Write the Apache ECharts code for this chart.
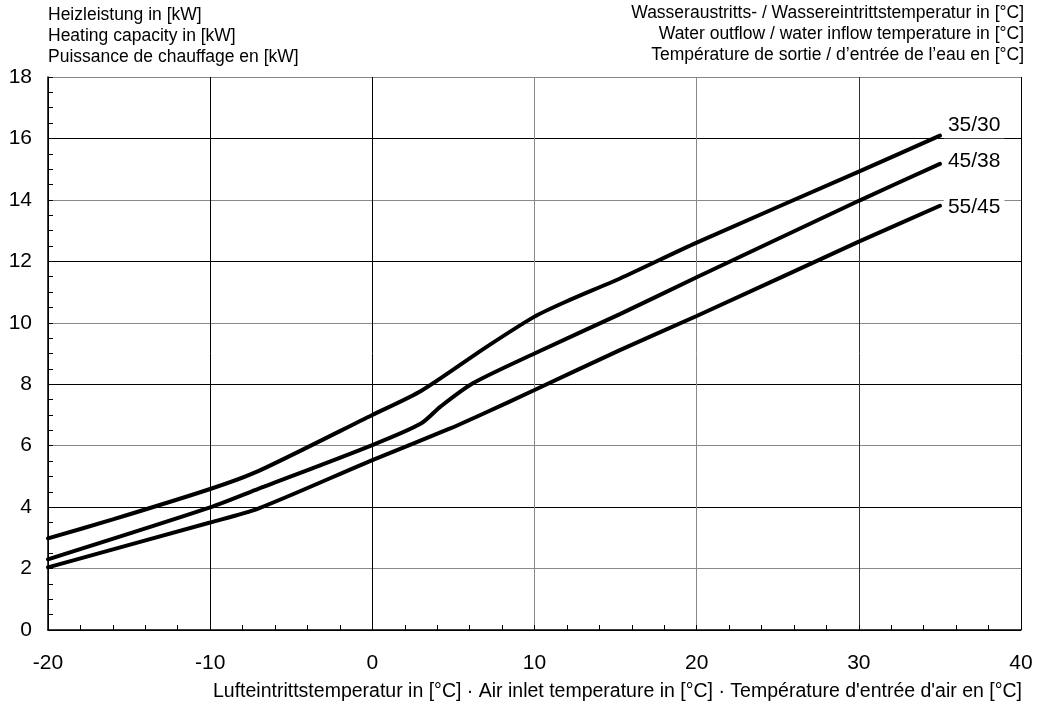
<!DOCTYPE html>
<html style="height: 100%">
<head>
    <meta charset="utf-8">
</head>
<body style="height: 100%; margin: 0; background: #fff">
<div id="container" style="width: 1037px; height: 706px"></div>
<script type="text/javascript" src="https://cdn.jsdelivr.net/npm/echarts@6/dist/echarts.min.js"></script>
<script type="text/javascript">
  // air inlet temperature [°C] -> heating capacity [kW]
  const curve3530 = [
    [-20, 2.98], [-16, 3.6], [-10, 4.59], [-7, 5.18], [0, 7.0], [3, 7.78],
    [7, 9.2], [10, 10.2], [12, 10.7], [15.3, 11.45], [20, 12.61],
    [30, 14.92], [35, 16.09]
  ];
  const curve4538 = [
    [-20, 2.3], [-10, 3.99], [-7, 4.6], [0, 6.02], [3, 6.72], [4.2, 7.27],
    [6.2, 8.03], [10, 9.0], [15.3, 10.29], [20, 11.48],
    [30, 13.97], [35, 15.17]
  ];
  const curve5545 = [
    [-20, 2.04], [-10, 3.5], [-7, 3.96], [0, 5.53], [4.8, 6.56], [6.8, 7.03],
    [10, 7.81], [15.3, 9.12], [20, 10.22], [30, 12.64],
    [35, 13.81]
  ];
  const seriesNames = ['35/30', '45/38', '55/45'];
  const labelShift = [[0, -10], [0, -3], [0, 1]];

  const font = '"Liberation Sans", Arial, sans-serif';

  const titleLeft = [
    'Heizleistung in [kW]',
    'Heating capacity in [kW]',
    'Puissance de chauffage en [kW]'
  ];
  const titleRight = [
    'Wasseraustritts- / Wassereintrittstemperatur in [°C]',
    'Water outflow / water inflow temperature in [°C]',
    'Température de sortie / d’entrée de l’eau en [°C]'
  ];
  const xName = 'Lufteintrittstemperatur in [°C] · Air inlet temperature in [°C] · Température d\'entrée d\'air en [°C]';

  var dom = document.getElementById('container');
  var myChart = echarts.init(dom);

  const graphics = [];
  titleLeft.forEach(function (t, i) {
    graphics.push({
      type: 'text', left: 48, top: 6 + i * 21,
      style: { text: t, font: '17.5px ' + font, fill: '#000' }
    });
  });
  titleRight.forEach(function (t, i) {
    graphics.push({
      type: 'text', right: 13, top: 4 + i * 21,
      style: { text: t, font: '17.5px ' + font, fill: '#000', textAlign: 'right' }
    });
  });
  graphics.push({
    type: 'text', right: 15, top: 682,
    style: { text: xName, font: '19.5px ' + font, fill: '#000', textAlign: 'right' }
  });

  const curves = [curve3530, curve4538, curve5545];

  var option = {
    animation: false,
    backgroundColor: '#fff',
    textStyle: { fontFamily: font },
    grid: { left: 48, right: 16, top: 77, bottom: 76 },
    graphic: graphics,
    xAxis: {
      type: 'value',
      min: -20, max: 40, interval: 10,
      axisLine: { show: true, onZero: false, lineStyle: { color: '#000', width: 1.5 } },
      axisTick: { show: true, inside: true, length: 5, lineStyle: { color: '#000' } },
      minorTick: { show: true, splitNumber: 5, length: 5, lineStyle: { color: '#000' } },
      axisLabel: { fontSize: 21, color: '#000', margin: 23, fontFamily: font },
      splitLine: { show: true, lineStyle: { color: ['#000', '#000', '#000', '#888', '#888', '#333', '#000'], width: 1 } }
    },
    yAxis: {
      type: 'value',
      min: 0, max: 18, interval: 2,
      axisLine: { show: true, onZero: false, lineStyle: { color: '#000', width: 1.5 } },
      axisTick: { show: true, inside: true, length: 5, lineStyle: { color: '#000' } },
      minorTick: { show: true, splitNumber: 4, length: 5, lineStyle: { color: '#000' } },
      axisLabel: { fontSize: 21, color: '#000', margin: 16, fontFamily: font },
      splitLine: { show: true, lineStyle: { color: ['#000', '#888'], width: 1 } }
    },
    series: curves.map(function (d, i) {
      return {
        name: seriesNames[i],
        type: 'line',
        data: d,
        smooth: 0.25,
        showSymbol: false,
        lineStyle: { color: '#000', width: 4, cap: 'round' },
        endLabel: {
          show: true,
          formatter: seriesNames[i],
          fontSize: 21,
          color: '#000',
          fontFamily: font,
          backgroundColor: '#fff',
          padding: [2, 4],
          distance: 4,
          offset: labelShift[i]
        }
      };
    })
  };

  myChart.setOption(option);
</script>
</body>
</html>
